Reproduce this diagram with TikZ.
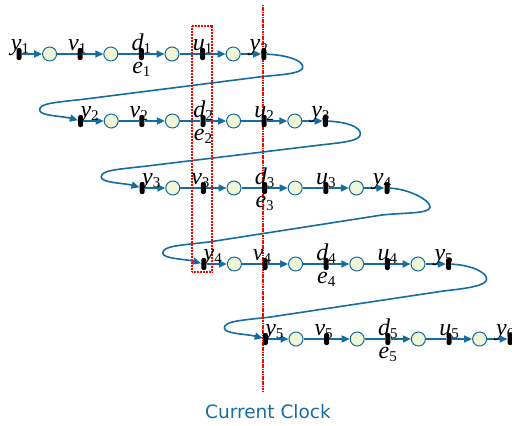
\documentclass[tikz,border=0pt]{standalone}
\usepackage{fontspec}
\setmainfont{Liberation Serif}
\newfontfamily\clockfont{DejaVu Sans}
\usetikzlibrary{arrows.meta,calc,backgrounds}
\definecolor{lineblue}{RGB}{22,108,160}
\definecolor{circfill}{RGB}{238,246,213}
\newcommand\lbl[2]{\fontsize{24}{24}\selectfont\itshape #1\raisebox{-3pt}{\fontsize{15}{15}\selectfont\upshape #2}}
\newcommand\swirl[5]{%
  \draw[conn,arr] (#1) .. controls +(22,1) and +(0,-7) .. ($(#1)+(#3,#4)$)
    .. controls +(0,7) and +(22,-2.5) .. ($(#1)+(-5,#5)$)
    -- ($(#2)+(5,-22)$)
    .. controls +(-30,3.5) and +(0,-7) .. ($(#2)+(-41,-11)$)
    .. controls +(0,6) and +(-18,-5) .. (#2);}
\tikzset{
  tick/.style={rectangle, fill=black, minimum width=5pt, minimum height=12pt, inner sep=0pt, rounded corners=2pt},
  circ/.style={circle, draw=lineblue, fill=circfill, line width=1pt, minimum size=14pt, inner sep=0pt},
  conn/.style={draw=lineblue, line width=1.6pt},
  arr/.style={-{Triangle[length=8pt,width=7pt]}},
  lab/.style={anchor=base, inner sep=0pt},
  redline/.style={draw=red, line width=1.6pt, dash pattern=on 1.2pt off 0.5pt},
  redbox/.style={draw=red, line width=1.2pt, dash pattern=on 1pt off 0.5pt},
}
\begin{document}
\begin{tikzpicture}[x=1pt,y=-1pt]
\useasboundingbox (0,0) rectangle (512,426);
\foreach \row/\yy in {1/54,2/121,3/188,4/264,5/339} {
  \pgfmathsetmacro\xo{19+61.6*(\row-1)}
  \pgfmathtruncatemacro\rn{\row+1}
  \pgfmathsetmacro\sdx{ifthenelse(\row==1,1,9)}
  \foreach \k in {0,...,4} {
    \node[tick] (t-\row-\k) at ({\xo+61.2*\k},\yy) {};
  }
  \foreach \k in {0,...,3} {
    \node[circ] (c-\row-\k) at ({\xo+61.2*\k+30.6},\yy) {};
  }
  \node[lab] (ly-\row) at ($(t-\row-0)+(\sdx,-4)$) {\lbl{y}{\row}};
  \node[lab] (lv-\row) at ($(t-\row-1)+(-3,-4)$) {\lbl{v}{\row}};
  \node[lab] (ld-\row) at ($(t-\row-2)+(0,-4)$) {\lbl{d}{\row}};
  \node[lab] (le-\row) at ($(t-\row-2)+(0,19)$) {\lbl{e}{\row}};
  \node[lab] (lu-\row) at ($(t-\row-3)+(0,-4)$) {\lbl{u}{\row}};
  \node[lab] (lz-\row) at ($(t-\row-4)+(-5,-4)$) {\lbl{y}{\rn}};
}
\node[text=lineblue, font=\clockfont\fontsize{18.5}{18.5}\selectfont] (clock) at (268,412) {Current Clock};
\coordinate (clk-top) at (263,5);
\coordinate (clk-bot) at (263,392);
\coordinate (box-a) at (192,26);
\coordinate (box-b) at (212,272);
\begin{pgfonlayer}{background}
  \foreach \row in {1,...,5} {
    \foreach \k in {0,...,3} {
      \draw[conn,arr] (t-\row-\k) -- (c-\row-\k);
    }
    \foreach \k [evaluate=\k as \kn using int(\k+1)] in {0,...,2} {
      \draw[conn] (c-\row-\k) -- (t-\row-\kn);
    }
    \draw[conn,arr] (c-\row-3) -- (t-\row-4);
  }
  \swirl{t-1-4}{t-2-0}{39}{13}{23}
  \swirl{t-2-4}{t-3-0}{35}{13}{24}
  \swirl{t-3-4}{t-4-0}{43}{19}{27}
  \swirl{t-4-4}{t-5-0}{38}{15}{27}
  \draw[redline] (clk-top) -- (clk-bot);
  \draw[redbox] (box-a) rectangle (box-b);
\end{pgfonlayer}
\end{tikzpicture}
\end{document}
